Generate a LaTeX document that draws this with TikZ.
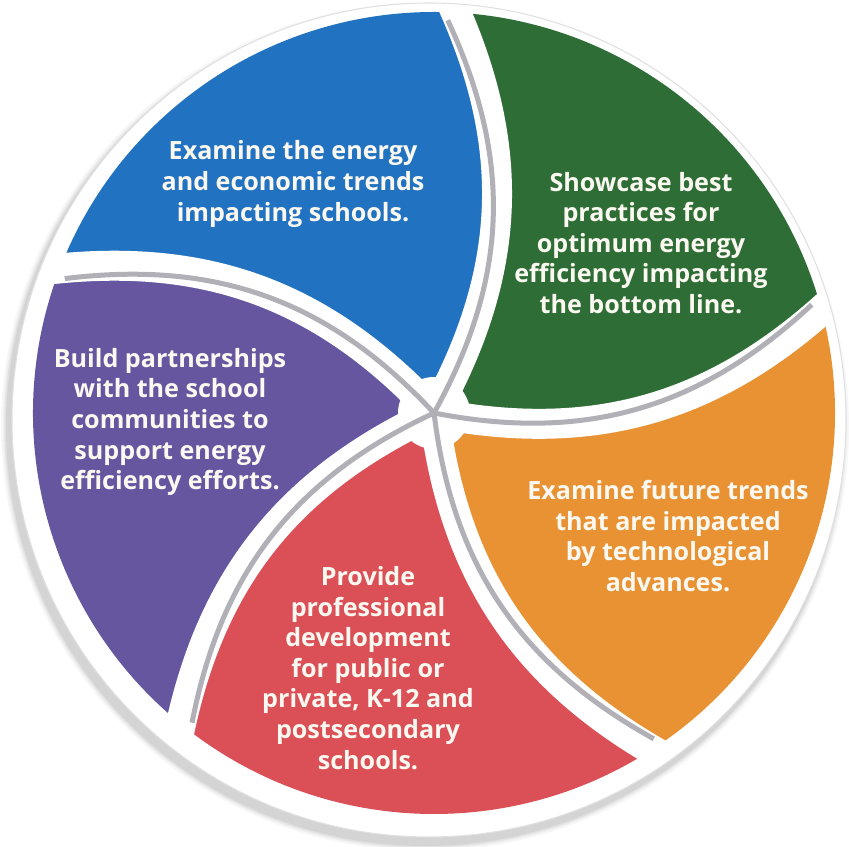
\documentclass[tikz,border=0pt]{standalone}
\usepackage{fontspec}
\setmainfont{Open Sans}
\IfFontExistsTF{Open Sans SemiBold}
  {\newfontfamily\segfont{Open Sans SemiBold}}
  {\newfontfamily\segfont{Open Sans}[UprightFont=*-Bold]}
\usetikzlibrary{calc}

\definecolor{segBlue}{RGB}{33,114,192}
\definecolor{segGreen}{RGB}{46,110,54}
\definecolor{segOrange}{RGB}{232,146,52}
\definecolor{segRed}{RGB}{218,80,86}
\definecolor{segPurple}{RGB}{102,86,160}
\definecolor{gapGray}{RGB}{176,176,182}
\definecolor{txtWhite}{RGB}{250,248,240}

\begin{document}
\begin{tikzpicture}[x=0.02cm,y=0.02cm,
  segtext/.style={align=center,text=txtWhite,font=\segfont\fontsize{14.3}{17.4}\selectfont},
  gapline/.style={white,line width=0.6cm},
  gapmark/.style={gapGray,line width=0.1cm}]
\useasboundingbox (0,0) rectangle (849,846);
\coordinate (hub) at (434,433);
\coordinate (disc) at (429,426);
\coordinate (p1) at ($(hub)+(88:401)$);
\coordinate (p2) at ($(hub)+(16:401)$);
\coordinate (p3) at ($(hub)+(-56:401)$);
\coordinate (p4) at ($(hub)+(-128:401)$);
\coordinate (p5) at ($(hub)+(160:401)$);
\foreach \s/\o in {14/0.03,10/0.04,7/0.05,4/0.06}
  \fill[black,opacity=\o] ($(disc)+(-4,-7)$) circle[radius=417+\s/2];
\fill[white,draw=black!12,line width=.6pt] (disc) circle[radius=417];
\fill[segBlue] (hub) to[bend right=27] (p1) arc[start angle=88,end angle=160,radius=401] to[bend left=27] (hub) -- cycle;
\fill[segGreen] (hub) to[bend right=27] (p2) arc[start angle=16,end angle=88,radius=401] to[bend left=27] (hub) -- cycle;
\fill[segOrange] (hub) to[bend right=27] (p3) arc[start angle=-56,end angle=16,radius=401] to[bend left=27] (hub) -- cycle;
\fill[segRed] (hub) to[bend right=27] (p4) arc[start angle=-128,end angle=-56,radius=401] to[bend left=27] (hub) -- cycle;
\fill[segPurple] (hub) to[bend right=27] (p5) arc[start angle=160,end angle=232,radius=401] to[bend left=27] (hub) -- cycle;
\begin{scope}
\clip (disc) circle[radius=416];
\foreach \p in {p1,p2,p3,p4,p5}
  \draw[gapline] (hub) to[bend right=27] ($(hub)!1.04!(\p)$);
\end{scope}
\fill[white] (hub) circle[radius=36];
\foreach \p in {p1,p2,p3,p4,p5}
  \draw[gapmark] (hub) to[bend right=27] ($(hub)!0.98!(\p)$);
\node[segtext] (blueText) at (293,662) {Examine the energy\\and economic trends\\impacting schools.};
\node[segtext] (greenText) at (641,603) {Showcase best\\practices for\\optimum energy\\efficiency impacting\\the bottom line.};
\node[segtext] (orangeText) at (668,310) {Examine future trends\\that are impacted\\by technological\\advances.};
\node[segtext] (redText) at (368,178) {Provide\\professional\\development\\for public or\\private, K-12 and\\postsecondary\\schools.};
\node[segtext] (purpleText) at (170,424) {Build partnerships\\with the school\\communities to\\support energy\\efficiency efforts.};
\end{tikzpicture}
\end{document}
